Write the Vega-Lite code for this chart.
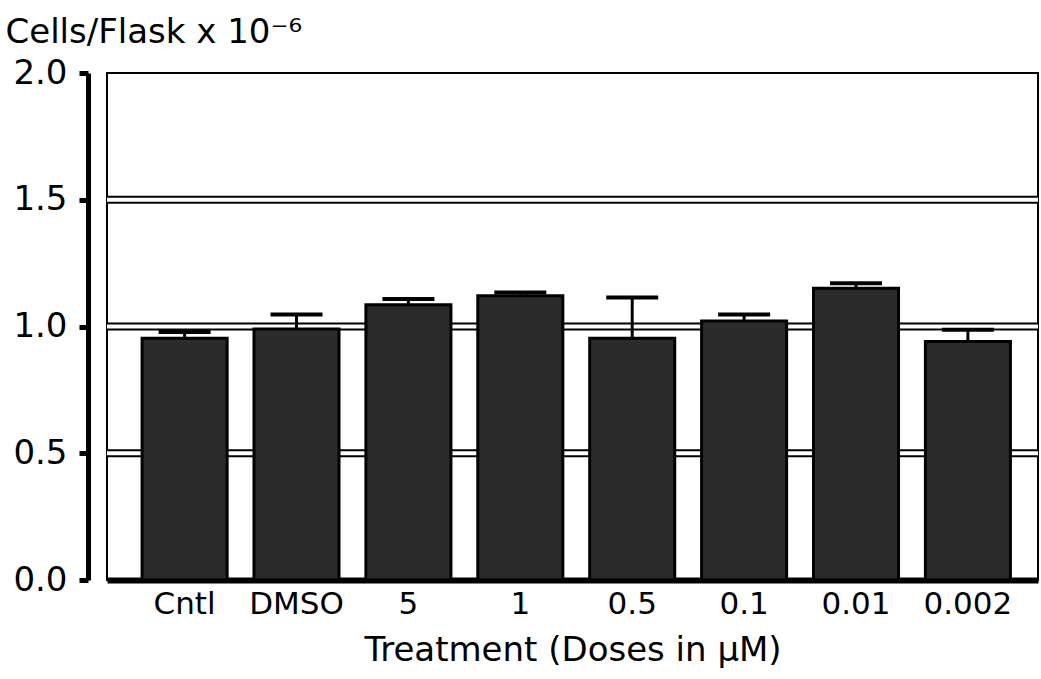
{
  "$schema": "https://vega.github.io/schema/vega-lite/v6.json",
  "width": 931,
  "height": 507,
  "autosize": {"type": "none"},
  "padding": {"left": 107, "top": 73, "right": 3, "bottom": 99},
  "background": "white",
  "config": {
    "font": "DejaVu Sans",
    "view": {"stroke": "black", "strokeWidth": 2}
  },
  "datasets": {
    "bars": [
      {"treatment": "Cntl", "cells": 0.954, "upper": 0.978},
      {"treatment": "DMSO", "cells": 0.99, "upper": 1.047},
      {"treatment": "5", "cells": 1.086, "upper": 1.108},
      {"treatment": "1", "cells": 1.121, "upper": 1.134},
      {"treatment": "0.5", "cells": 0.954, "upper": 1.114},
      {"treatment": "0.1", "cells": 1.022, "upper": 1.047},
      {"treatment": "0.01", "cells": 1.151, "upper": 1.171},
      {"treatment": "0.002", "cells": 0.941, "upper": 0.987}
    ],
    "grid": [{"level": 0.5}, {"level": 1.0}, {"level": 1.5}]
  },
  "layer": [
    {
      "data": {"name": "grid"},
      "mark": {"type": "rule", "stroke": "black", "strokeWidth": 8},
      "encoding": {"y": {"field": "level", "type": "quantitative", "scale": {"domain": [0, 2]}}}
    },
    {
      "data": {"name": "grid"},
      "mark": {"type": "rule", "stroke": "white", "strokeWidth": 4},
      "encoding": {"y": {"field": "level", "type": "quantitative"}}
    },
    {
      "data": {"name": "bars"},
      "mark": {"type": "bar", "fill": "#2b2b2b", "stroke": "black", "strokeWidth": 3},
      "encoding": {
        "x": {
          "field": "treatment",
          "type": "nominal",
          "sort": null,
          "scale": {"paddingInner": 0.24, "paddingOuter": 0.28, "align": 0.56},
          "axis": {
            "title": "Treatment (Doses in μM)",
            "titleFontSize": 34,
            "titleFontWeight": "normal",
            "titleColor": "black",
            "titlePadding": 14,
            "labelAngle": 0,
            "labelFontSize": 31,
            "labelColor": "black",
            "labelPadding": 9,
            "ticks": false,
            "domainColor": "black",
            "domainWidth": 6
          }
        },
        "y": {
          "field": "cells",
          "type": "quantitative",
          "scale": {"domain": [0, 2], "nice": false},
          "axis": {
            "values": [0, 0.5, 1, 1.5, 2],
            "format": ".1f",
            "grid": false,
            "offset": 19,
            "domainColor": "black",
            "domainWidth": 5,
            "tickColor": "black",
            "tickWidth": 5,
            "tickSize": 9,
            "labelFontSize": 34,
            "labelColor": "black",
            "labelPadding": 12,
            "title": "Cells/Flask x 10⁻⁶",
            "titleAngle": 0,
            "titleAlign": "left",
            "titleBaseline": "alphabetic",
            "titleFontSize": 34,
            "titleFontWeight": "normal",
            "titleColor": "black",
            "titleX": -83,
            "titleY": -31
          }
        }
      }
    },
    {
      "data": {"name": "bars"},
      "mark": {"type": "rule", "stroke": "black", "strokeWidth": 3},
      "encoding": {
        "x": {"field": "treatment", "type": "nominal", "sort": null},
        "y": {"field": "cells", "type": "quantitative"},
        "y2": {"field": "upper"}
      }
    },
    {
      "data": {"name": "bars"},
      "mark": {"type": "tick", "color": "black", "size": 52, "thickness": 4, "opacity": 1},
      "encoding": {
        "x": {"field": "treatment", "type": "nominal", "sort": null},
        "y": {"field": "upper", "type": "quantitative"}
      }
    }
  ]
}
